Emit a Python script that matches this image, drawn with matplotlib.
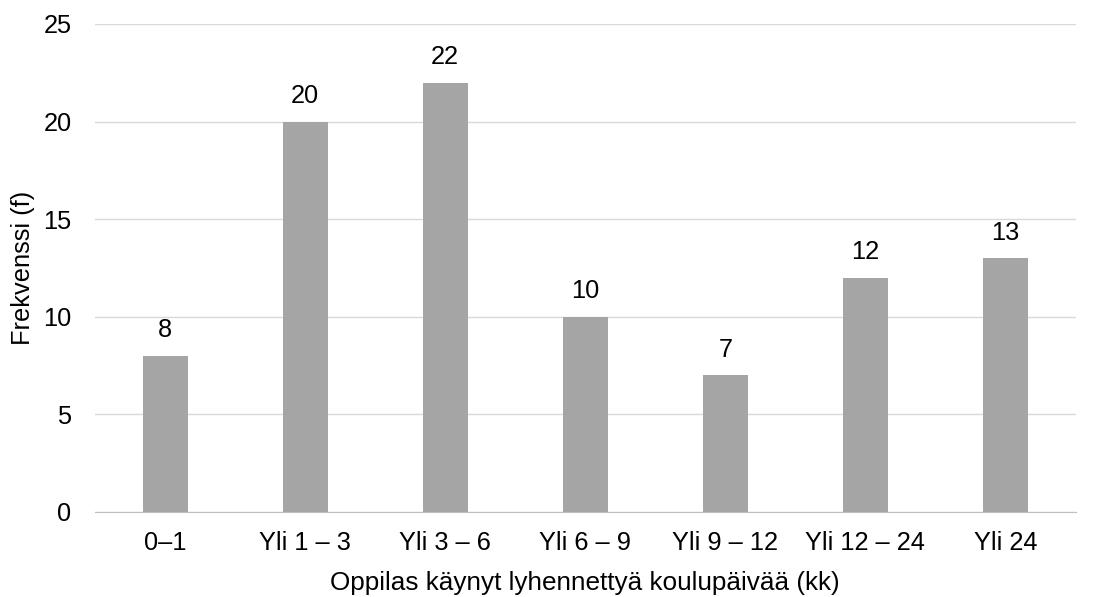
import matplotlib.pyplot as plt

plt.rcParams['font.family'] = ['Liberation Sans', 'DejaVu Sans']

# Data
categories = ['0–1', 'Yli 1 – 3', 'Yli 3 – 6', 'Yli 6 – 9', 'Yli 9 – 12', 'Yli 12 – 24', 'Yli 24']
counts = [8, 20, 22, 10, 7, 12, 13]
yticks = [0, 5, 10, 15, 20, 25]

FS = 18.3

fig = plt.figure(figsize=(10.93, 5.97), dpi=100)
ax = fig.add_axes([0.087, 0.1424, 0.897, 0.8174])

x = range(len(categories))
bars = ax.bar(x, counts, width=0.32, color='#A5A5A5', zorder=3)

for b, v in zip(bars, counts):
    ax.text(b.get_x() + b.get_width() / 2, v + 0.7, str(v),
            ha='center', va='bottom', fontsize=FS, color='#000000')

ax.set_xlim(-0.5, len(categories) - 0.5)
ax.set_ylim(0, 25)
ax.set_yticks(yticks)
ax.set_xticks(list(x))
ax.set_xticklabels(categories)
ax.tick_params(axis='both', length=0, labelsize=FS, colors='#000000')
ax.tick_params(axis='y', pad=17)
ax.tick_params(axis='x', pad=14)

ax.yaxis.grid(True, color='#D9D9D9', linewidth=1, zorder=0)
for s in ['top', 'right', 'left']:
    ax.spines[s].set_visible(False)
ax.spines['bottom'].set_color('#BFBFBF')
ax.spines['bottom'].set_zorder(4)

ax.set_xlabel('Oppilas käynyt lyhennettyä koulupäivää (kk)', fontsize=18.8, labelpad=11)
ax.set_ylabel('Frekvenssi (f)', fontsize=FS, labelpad=6)

fig.savefig('out.png', dpi=100)
